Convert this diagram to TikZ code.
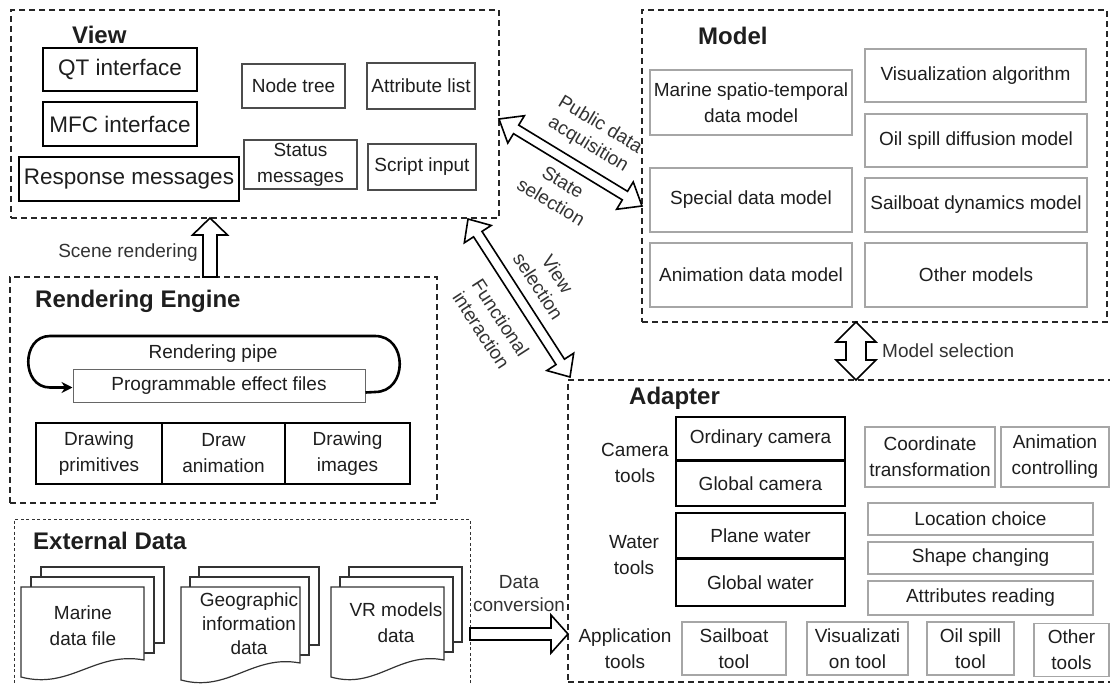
\documentclass[tikz,border=0pt]{standalone}
\usepackage{fontspec}
\setmainfont{Liberation Sans}
\usetikzlibrary{calc,arrows.meta}
\definecolor{txt}{HTML}{1E1E1E}
\definecolor{lbl}{HTML}{333333}
\tikzset{
  every node/.style={text=txt, inner sep=0pt, align=center, font=\fontsize{19}{26}\selectfont},
  frm/.style={draw=black!85, line width=1.4pt, dash pattern=on 6pt off 4pt},
  frmthin/.style={draw=black!80, line width=0.9pt, dash pattern=on 3pt off 2.5pt},
  kbox/.style={draw=black, line width=2.2pt, font=\fontsize{22.5}{27}\selectfont},
  nbox/.style={draw=black!70, line width=1.2pt},
  gbox/.style={draw=black!35, line width=1.3pt},
  cbox/.style={draw=black, line width=1.8pt},
  rbox/.style={draw=black, line width=1.2pt},
  pbox/.style={draw=black!60, line width=1pt},
  ttl/.style={font=\bfseries\fontsize{24}{28}\selectfont, anchor=west},
  albl/.style={text=lbl, font=\fontsize{19}{23}\selectfont},
  harrow/.style={draw=black, line width=1.6pt, fill=white, line join=miter},
  docs/.style={draw=black!80, line width=1.2pt, fill=white},
}
% double hollow arrow: A, B, shaft half width, head half width, head length
\newcommand{\dblarrow}[5]{%
  \draw[harrow] (#1) -- ($(#1)!#5!(#2)!#4!90:(#2)$) -- ($(#1)!#5!(#2)!#3!90:(#2)$)
   -- ($(#2)!#5!(#1)!#3!-90:(#1)$) -- ($(#2)!#5!(#1)!#4!-90:(#1)$) -- (#2)
   -- ($(#2)!#5!(#1)!#4!90:(#1)$) -- ($(#2)!#5!(#1)!#3!90:(#1)$)
   -- ($(#1)!#5!(#2)!#3!-90:(#2)$) -- ($(#1)!#5!(#2)!#4!-90:(#2)$) -- cycle;}
% single hollow arrow: tail A, tip B
\newcommand{\sglarrow}[5]{%
  \draw[harrow] ($(#1)!#3!90:(#2)$) -- ($(#2)!#5!(#1)!#3!-90:(#1)$)
   -- ($(#2)!#5!(#1)!#4!-90:(#1)$) -- (#2) -- ($(#2)!#5!(#1)!#4!90:(#1)$)
   -- ($(#2)!#5!(#1)!#3!90:(#1)$) -- ($(#1)!#3!-90:(#2)$) -- cycle;}
% document page front: L R T Bl Br
\newcommand{\docfront}[5]{%
  \draw[docs] (#1,#4) -- (#1,#3) -- (#2,#3) -- (#2,#5)
   .. controls ({#1+0.6*(#2-#1)},{#5-9}) and ({#1+0.4*(#2-#1)},{#4+13}) .. (#1,#4) -- cycle;}
\begin{document}
\begin{tikzpicture}[x=1pt,y=-1pt]
\useasboundingbox (0,0) rectangle (1110,684);
\clip (0,0) rectangle (1110,684);
\fill[white] (0,0) rectangle (1110,684);

% ---------------- frames
\node[frm, minimum width=488pt, minimum height=208pt] (view) at (255,114) {};
\node[frm, minimum width=465pt, minimum height=312pt] (model) at (874.5,166) {};
\node[frm, minimum width=427pt, minimum height=226pt] (rend) at (223.5,390) {};
\node[frm, minimum width=547pt, minimum height=302pt] (adapt) at (841.5,531) {};
\node[frmthin, minimum width=456pt, minimum height=181pt] (ext) at (242,609.5) {};

% ---------------- View
\node[ttl] (viewt) at (72,35) {View};
\node[kbox, minimum width=154pt, minimum height=43pt] (qt) at (120,69.5) {QT interface};
\node[kbox, minimum width=154pt, minimum height=44pt] (mfc) at (120,124) {MFC interface};
\node[kbox, minimum width=220pt, minimum height=44pt] (resp) at (129,179) {Response messages};
\node[nbox, minimum width=103pt, minimum height=44pt] (ntree) at (293.5,86) {Node tree};
\node[nbox, minimum width=108pt, minimum height=46pt] (attr) at (421,86) {Attribute list};
\node[nbox, minimum width=113pt, minimum height=49pt] (stat) at (300.5,164.5) {Status\\messages};
\node[nbox, minimum width=108pt, minimum height=46pt] (script) at (422,167) {Script input};

% ---------------- Model
\node[ttl] (modelt) at (698,36) {Model};
\node[gbox, minimum width=202pt, minimum height=65pt] (marine) at (751,102.5) {Marine spatio-temporal\\data model};
\node[gbox, minimum width=221pt, minimum height=53pt] (visalg) at (975.5,75.5) {Visualization algorithm};
\node[gbox, minimum width=222pt, minimum height=53pt] (oildiff) at (976,140.5) {Oil spill diffusion model};
\node[gbox, minimum width=202pt, minimum height=64pt] (special) at (751,200) {Special data model};
\node[gbox, minimum width=222pt, minimum height=54pt] (sailboat) at (976,205) {Sailboat dynamics model};
\node[gbox, minimum width=202pt, minimum height=64pt] (anim) at (751,275) {Animation data model};
\node[gbox, minimum width=222pt, minimum height=64pt] (other) at (976,275) {Other models};

% ---------------- Rendering Engine
\node[ttl] (rendt) at (35,301) {Rendering Engine};
\node (pipe) at (213,354) {Rendering pipe};
\node[pbox, minimum width=292pt, minimum height=33pt] (prog) at (219,385.5) {Programmable effect files};
\node[rbox, minimum width=126pt, minimum height=61pt] (dprim) at (99,453.5) {Drawing\\primitives};
\node[rbox, minimum width=123pt, minimum height=61pt] (danim) at (223.5,453.5) {Draw\\animation};
\node[rbox, minimum width=125pt, minimum height=61pt] (dimg) at (347.5,453.5) {Drawing\\images};
\draw[line width=2.6pt, -{Stealth[length=11pt,width=11pt]}]
  ($(prog.south east)+(0,-10)$) -- (375,392)
  .. controls (408,392) and (408,336) .. (375,336) -- (50,336)
  .. controls (21,336) and (21,387.5) .. (50,387.5) -- ($(prog.west)+(0,2)$);

% ---------------- External Data
\node[ttl] (extt) at (33,541) {External Data};
\draw[docs] (41,567) rectangle (164,643);
\draw[docs] (31,577) rectangle (154,653);
\docfront{21}{144}{587}{677}{660}
\node (mfile) at (83,626) {Marine\\data file};
\draw[docs] (199,567) rectangle (319,645);
\draw[docs] (190,577) rectangle (309,655);
\docfront{181}{300}{587}{680}{663}
\node[font=\fontsize{19}{24}\selectfont] (geo) at (249,624) {Geographic\\information\\data};
\draw[docs] (349,567) rectangle (462,642);
\draw[docs] (340,577) rectangle (453,652);
\docfront{331}{444}{587}{677}{660}
\node (vr) at (396,623) {VR models\\data};

% ---------------- Adapter
\node[ttl] (adaptt) at (629,398) {Adapter};
\node (camt) at (635,463) {Camera\\tools};
\node (watt) at (634,555) {Water\\tools};
\node (appt) at (625,649) {Application\\tools};
\node[cbox, minimum width=169pt, minimum height=43pt] (ocam) at (760.5,438.5) {Ordinary camera};
\node[cbox, minimum width=169pt, minimum height=45pt] (gcam) at (760.5,483.5) {Global camera};
\node[cbox, minimum width=169pt, minimum height=45pt] (pwat) at (760.5,535.5) {Plane water};
\node[cbox, minimum width=169pt, minimum height=47pt] (gwat) at (760.5,582.5) {Global water};
\node[gbox, minimum width=130pt, minimum height=60pt] (coord) at (930,457) {Coordinate\\transformation};
\node[gbox, minimum width=108pt, minimum height=60pt] (actrl) at (1055,457) {Animation\\controlling};
\node[gbox, minimum width=225pt, minimum height=32pt] (loc) at (980.5,519) {Location choice};
\node[gbox, minimum width=225pt, minimum height=32pt] (shape) at (980.5,558) {Shape changing};
\node[gbox, minimum width=225pt, minimum height=34pt] (attrr) at (980.5,598) {Attributes reading};
\node[gbox, minimum width=104pt, minimum height=53pt] (stool) at (734,648.5) {Sailboat\\tool};
\node[gbox, minimum width=101pt, minimum height=53pt] (vtool) at (857.5,648.5) {Visualizati\\on tool};
\node[gbox, minimum width=87pt, minimum height=53pt] (otool) at (970.5,648.5) {Oil spill\\tool};
\node[gbox, minimum width=75pt, minimum height=53pt] (xtool) at (1071.5,650) {Other\\tools};

% ---------------- connectors (hollow arrows)
\coordinate (sA) at (210,277);
\coordinate (sB) at (210,218);
\sglarrow{sA}{sB}{7pt}{17.5pt}{17pt}
\node[albl, anchor=center] (scenel) at (128,253) {Scene rendering};

\coordinate (dA) at (470,634);
\coordinate (dB) at (568,634);
\sglarrow{dA}{dB}{6pt}{19pt}{17pt}
\node[albl] (convl) at (519,594) {Data\\conversion};

\coordinate (mA) at (856,322);
\coordinate (mB) at (856,380);
\dblarrow{mA}{mB}{10pt}{20pt}{20pt}
\node[albl, anchor=west] (msel) at (882,351) {Model selection};

\coordinate (pA) at (499,119);
\coordinate (pB) at (642,206);
\dblarrow{pA}{pB}{5pt}{16pt}{20pt}
\node[albl, rotate=-31] (publ) at (594,135) {Public data\\acquisition};
\node[albl, rotate=-31] (statl) at (557,192) {State\\selection};

\coordinate (fA) at (468,219);
\coordinate (fB) at (570,377);
\dblarrow{fA}{fB}{5pt}{16pt}{18pt}
\node[albl, rotate=-57] (viewl) at (548,280) {View\\selection};
\node[albl, rotate=-57] (funcl) at (491,324) {Functional\\interaction};
\end{tikzpicture}
\end{document}
